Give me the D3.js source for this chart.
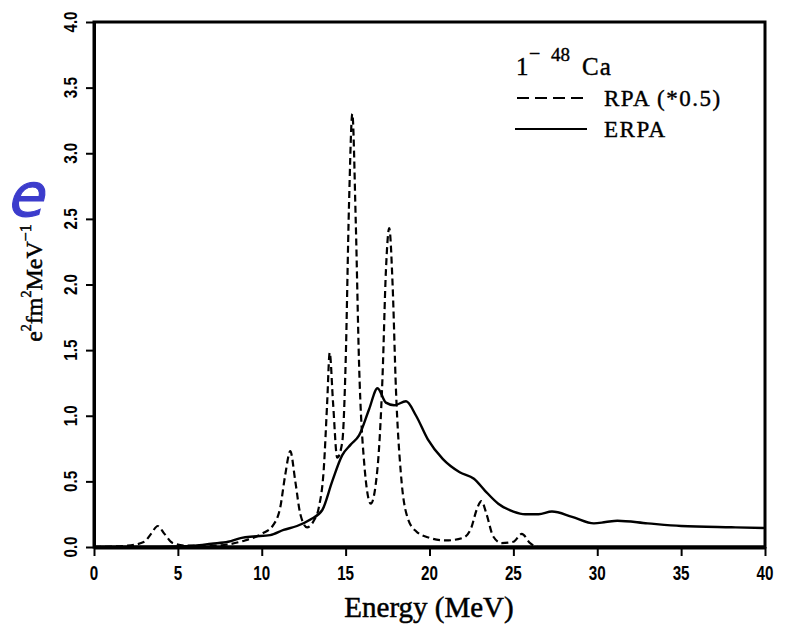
<!DOCTYPE html>
<html><head><meta charset="utf-8">
<script src="https://cdn.jsdelivr.net/npm/d3@7"></script>
<style>html,body{margin:0;padding:0;background:#fff;}svg{display:block;}</style>
</head><body>
<svg id="c" width="794" height="626"></svg>
<script>
// ---- data ----
const xTicks = [0, 5, 10, 15, 20, 25, 30, 35, 40];
const yTicks = [0.0, 0.5, 1.0, 1.5, 2.0, 2.5, 3.0, 3.5, 4.0];
const xTickLabels = ["0","5","10","15","20","25","30","35","40"];
const yTickLabels = ["0.0","0.5","1.0","1.5","2.0","2.5","3.0","3.5","4.0"];

// RPA (*0.5), dashed
const rpaE = [0, 2.0, 3.0, 3.4, 3.8, 4.2, 4.7, 5.5, 7.0, 8.0, 9.0, 10.0, 10.7, 11.1, 11.4, 11.7, 12.0, 12.3, 12.7, 13.1, 13.4, 13.7, 13.9, 14.05, 14.25, 14.5, 14.8, 15.0, 15.2, 15.4, 15.6, 15.8, 16.1, 16.5, 16.9, 17.2, 17.4, 17.6, 17.8, 18.0, 18.3, 18.7, 19.2, 20.0, 21.0, 22.0, 22.5, 22.8, 23.1, 23.4, 23.8, 24.3, 25.0, 25.5, 26.0, 26.5, 30, 40];
const rpaV = [0, 0.01, 0.04, 0.1, 0.16, 0.1, 0.03, 0.01, 0.01, 0.02, 0.05, 0.1, 0.17, 0.3, 0.55, 0.73, 0.5, 0.25, 0.15, 0.2, 0.3, 0.6, 1.1, 1.48, 1.1, 0.68, 0.8, 1.4, 2.6, 3.3, 2.5, 1.4, 0.65, 0.33, 0.6, 1.3, 2.1, 2.43, 2.0, 1.2, 0.55, 0.22, 0.12, 0.07, 0.05, 0.07, 0.15, 0.28, 0.35, 0.25, 0.08, 0.03, 0.04, 0.1, 0.03, 0, 0, 0];

// ERPA, solid
const erpaE = [0, 3, 5, 6, 7, 8, 8.8, 9.5, 10.5, 11.3, 12.1, 12.9, 13.6, 14.2, 14.8, 15.3, 15.8, 16.4, 16.9, 17.4, 17.9, 18.6, 19.2, 19.9, 20.8, 21.8, 22.65, 23.3, 24.1, 25.0, 25.7, 26.5, 27.3, 28.5, 29.8, 30.5, 31.2, 33.0, 35.0, 38.0, 40];
const erpaV = [0, 0, 0.005, 0.01, 0.025, 0.04, 0.07, 0.08, 0.09, 0.13, 0.16, 0.21, 0.28, 0.5, 0.7, 0.78, 0.85, 1.05, 1.21, 1.1, 1.08, 1.11, 1.0, 0.82, 0.67, 0.57, 0.52, 0.43, 0.33, 0.27, 0.25, 0.25, 0.27, 0.23, 0.18, 0.19, 0.2, 0.18, 0.16, 0.15, 0.145];

// ---- drawing ----
const svg = d3.select("#c");
const x = d3.scaleLinear().domain([0, 40]).range([94, 765]);
const y = d3.scaleLinear().domain([0, 4]).range([547, 22]);

const line = d3.line().x(d => x(d[0])).y(d => y(d[1])).curve(d3.curveMonotoneX);

// curves
svg.append("path").datum(erpaE.map((e, i) => [e, erpaV[i]]))
  .attr("d", line).attr("fill", "none").attr("stroke", "#000").attr("stroke-width", 2.4);
svg.append("path").datum(rpaE.map((e, i) => [e, rpaV[i]]))
  .attr("d", line).attr("fill", "none").attr("stroke", "#000").attr("stroke-width", 2.2)
  .attr("stroke-dasharray", "7,4");

// frame
svg.append("rect").attr("x", x(0)).attr("y", y(4)).attr("width", x(40) - x(0)).attr("height", y(0) - y(4))
  .attr("fill", "none").attr("stroke", "#000").attr("stroke-width", 3);

// x axis (ticks via d3 axis, labels drawn separately)
const gx = svg.append("g").attr("transform", `translate(0,${y(0)})`)
  .call(d3.axisBottom(x).tickValues(xTicks).tickFormat("").tickSizeOuter(0).tickSizeInner(9));
gx.select(".domain").attr("stroke-width", 4);
gx.selectAll(".tick line").attr("stroke-width", 2);
svg.append("g").selectAll("text").data(xTicks).join("text")
  .attr("transform", d => `translate(${x(d)},580) scale(0.78,1)`)
  .attr("text-anchor", "middle")
  .style("font-family", "'Liberation Sans', Arial, sans-serif").style("font-weight", "bold").style("font-size", "19.5px")
  .attr("fill", "#000").text((d, i) => xTickLabels[i]);

// y axis
const gy = svg.append("g").attr("transform", `translate(${x(0)},0)`)
  .call(d3.axisLeft(y).tickValues(yTicks).tickFormat("").tickSizeOuter(0).tickSizeInner(8));
gy.select(".domain").attr("stroke-width", 3);
gy.selectAll(".tick line").attr("stroke-width", 2);
const yl = svg.append("g").selectAll("g").data(yTicks).join("g")
  .attr("transform", d => `translate(77,${y(d)}) rotate(-90)`);
yl.append("text")
  .attr("text-anchor", "middle")
  .attr("transform", "scale(0.8,1)")
  .style("font-family", "'Liberation Sans', Arial, sans-serif").style("font-weight", "bold").style("font-size", "19px")
  .attr("fill", "#000").text((d, i) => yTickLabels[i]);

// x axis title
svg.append("text").attr("x", 429).attr("y", 617).attr("text-anchor", "middle")
  .style("font-family", "'Liberation Serif', 'Times New Roman', serif").style("font-size", "29px")
  .attr("fill", "#000").attr("stroke", "#000").attr("stroke-width", 0.5).text("Energy (MeV)");

// y axis title
const yt = svg.append("text").attr("transform", "translate(42,283) rotate(-90)").attr("text-anchor", "middle")
  .style("font-family", "'Liberation Serif', 'Times New Roman', serif").style("font-size", "24px")
  .attr("fill", "#000").attr("stroke", "#000").attr("stroke-width", 0.5);
yt.append("tspan").text("e");
yt.append("tspan").attr("dy", -11).style("font-size", "14px").text("2");
yt.append("tspan").attr("dy", 11).text("fm");
yt.append("tspan").attr("dy", -11).style("font-size", "14px").text("2");
yt.append("tspan").attr("dy", 11).text("MeV");
yt.append("tspan").attr("dy", -11).style("font-size", "16px").text("−1");

// blue handwritten e (slide artefact)
svg.append("text").attr("transform", "translate(6,216) skewX(-14)")
  .style("font-family", "'DejaVu Sans', sans-serif").style("font-size", "60px")
  .attr("fill", "#3c3ccc").attr("stroke", "#3c3ccc").attr("stroke-width", 1.2).text("e");

// legend
const lg = svg.append("g").style("font-family", "'Liberation Serif', 'Times New Roman', serif").attr("fill", "#000")
  .attr("stroke", "#000").attr("stroke-width", 0.4);
lg.append("text").attr("x", 516).attr("y", 75).style("font-size", "25px").text("1");
lg.append("text").attr("x", 529).attr("y", 60).style("font-size", "20px").text("−");
lg.append("text").attr("x", 551).attr("y", 61).style("font-size", "19px").text("48");
lg.append("text").attr("x", 582).attr("y", 75).style("font-size", "25px").style("letter-spacing", "1px").text("Ca");
lg.append("text").attr("x", 604).attr("y", 106).style("font-size", "23px").style("letter-spacing", "1.5px").text("RPA (*0.5)");
lg.append("text").attr("x", 604).attr("y", 137).style("font-size", "23px").style("letter-spacing", "1.5px").text("ERPA");
svg.append("line").attr("x1", 517).attr("x2", 589).attr("y1", 98).attr("y2", 98)
  .attr("stroke", "#000").attr("stroke-width", 2).attr("stroke-dasharray", "12,6");
svg.append("line").attr("x1", 515).attr("x2", 587).attr("y1", 129).attr("y2", 129)
  .attr("stroke", "#000").attr("stroke-width", 2.2);
</script>
</body></html>
